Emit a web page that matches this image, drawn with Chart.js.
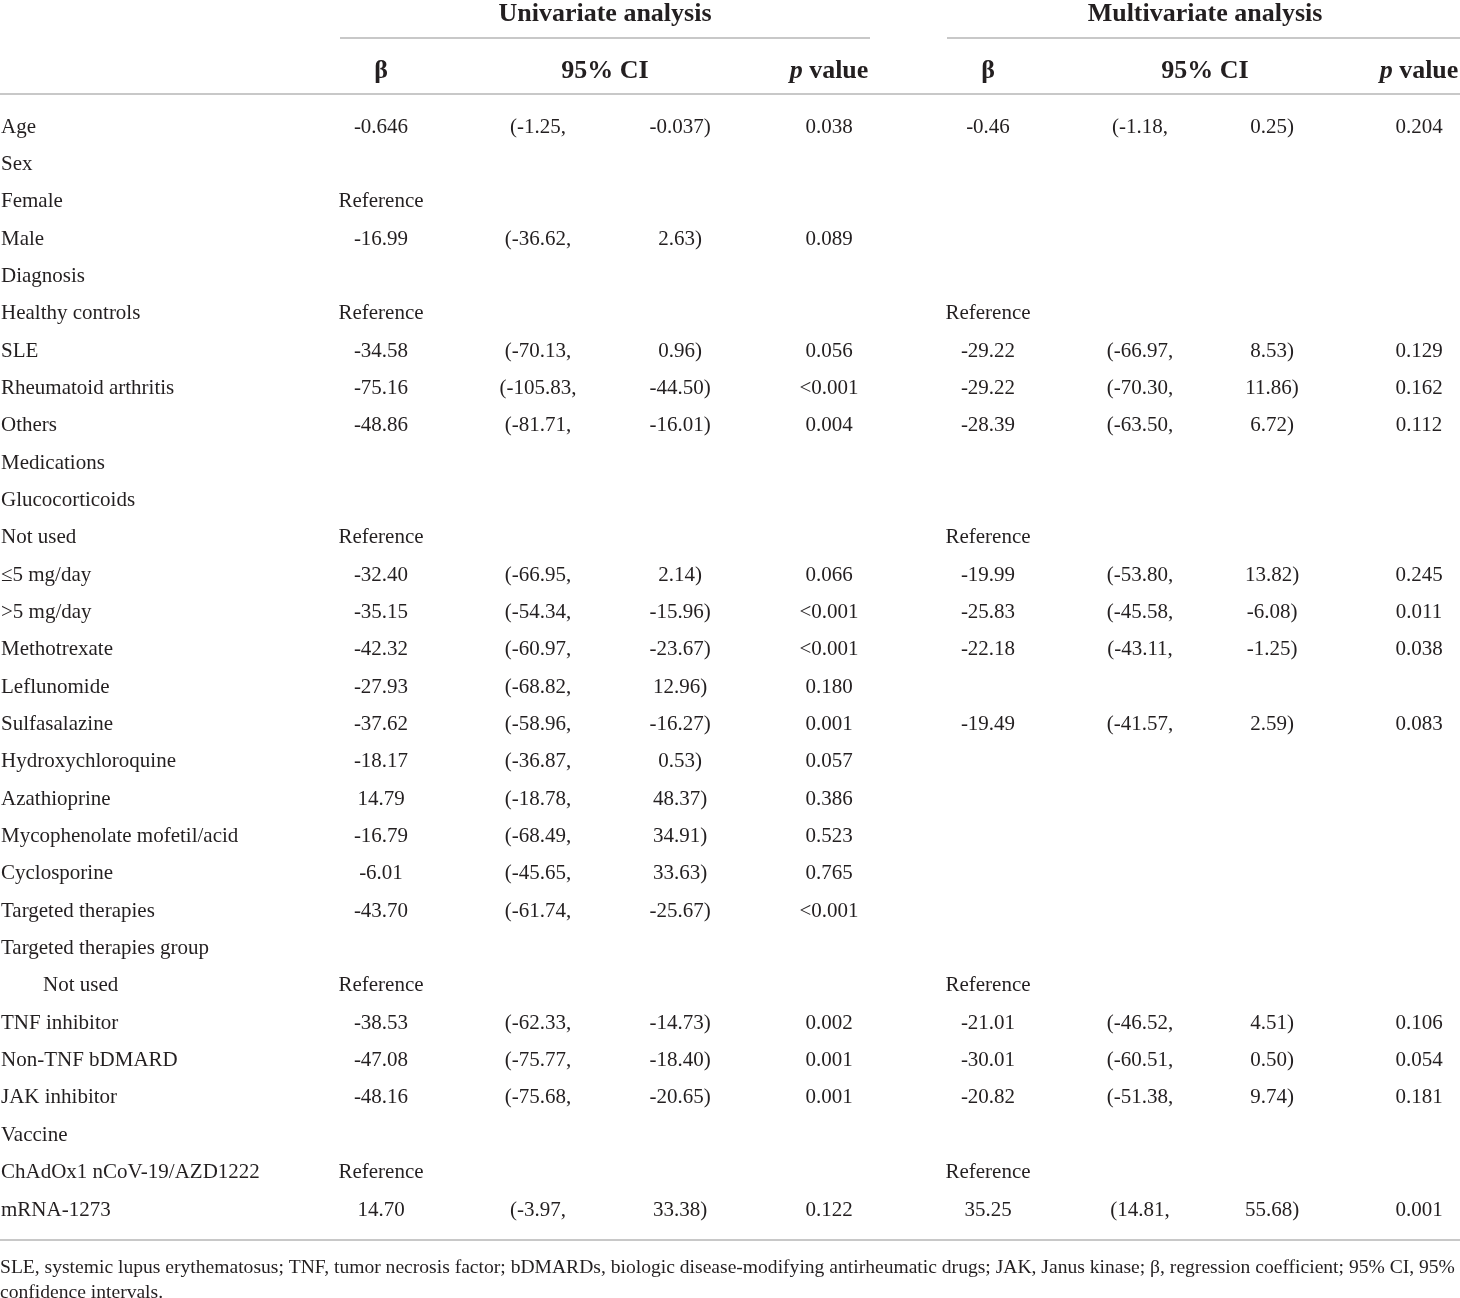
<!DOCTYPE html>
<html>
<head>
<meta charset="utf-8">
<script src="https://cdn.jsdelivr.net/npm/chart.js@4.4.1/dist/chart.umd.min.js"></script>
<style>
  html, body { margin: 0; background: #fff; }
  #wrap { width: 1460px; height: 1298px; }
</style>
</head>
<body>
<div id="wrap"><canvas id="chart"></canvas></div>
<script>
// table rows
const rowLabels = [
  "Age", "Sex", "Female", "Male", "Diagnosis", "Healthy controls", "SLE",
  "Rheumatoid arthritis", "Others", "Medications", "Glucocorticoids", "Not used",
  "≤5 mg/day", ">5 mg/day", "Methotrexate", "Leflunomide", "Sulfasalazine",
  "Hydroxychloroquine", "Azathioprine", "Mycophenolate mofetil/acid", "Cyclosporine",
  "Targeted therapies", "Targeted therapies group", "Not used", "TNF inhibitor",
  "Non-TNF bDMARD", "JAK inhibitor", "Vaccine", "ChAdOx1 nCoV-19/AZD1222", "mRNA-1273"
];
const indentedRows = [23];

// univariate analysis
const uniBeta = ["-0.646", "", "Reference", "-16.99", "", "Reference", "-34.58", "-75.16", "-48.86", "", "", "Reference",
  "-32.40", "-35.15", "-42.32", "-27.93", "-37.62", "-18.17", "14.79", "-16.79", "-6.01", "-43.70", "", "Reference",
  "-38.53", "-47.08", "-48.16", "", "Reference", "14.70"];
const uniLow = ["(-1.25,", "", "", "(-36.62,", "", "", "(-70.13,", "(-105.83,", "(-81.71,", "", "", "",
  "(-66.95,", "(-54.34,", "(-60.97,", "(-68.82,", "(-58.96,", "(-36.87,", "(-18.78,", "(-68.49,", "(-45.65,", "(-61.74,", "", "",
  "(-62.33,", "(-75.77,", "(-75.68,", "", "", "(-3.97,"];
const uniHigh = ["-0.037)", "", "", "2.63)", "", "", "0.96)", "-44.50)", "-16.01)", "", "", "",
  "2.14)", "-15.96)", "-23.67)", "12.96)", "-16.27)", "0.53)", "48.37)", "34.91)", "33.63)", "-25.67)", "", "",
  "-14.73)", "-18.40)", "-20.65)", "", "", "33.38)"];
const uniP = ["0.038", "", "", "0.089", "", "", "0.056", "<0.001", "0.004", "", "", "",
  "0.066", "<0.001", "<0.001", "0.180", "0.001", "0.057", "0.386", "0.523", "0.765", "<0.001", "", "",
  "0.002", "0.001", "0.001", "", "", "0.122"];

// multivariate analysis
const multiBeta = ["-0.46", "", "", "", "", "Reference", "-29.22", "-29.22", "-28.39", "", "", "Reference",
  "-19.99", "-25.83", "-22.18", "", "-19.49", "", "", "", "", "", "", "Reference",
  "-21.01", "-30.01", "-20.82", "", "Reference", "35.25"];
const multiLow = ["(-1.18,", "", "", "", "", "", "(-66.97,", "(-70.30,", "(-63.50,", "", "", "",
  "(-53.80,", "(-45.58,", "(-43.11,", "", "(-41.57,", "", "", "", "", "", "", "",
  "(-46.52,", "(-60.51,", "(-51.38,", "", "", "(14.81,"];
const multiHigh = ["0.25)", "", "", "", "", "", "8.53)", "11.86)", "6.72)", "", "", "",
  "13.82)", "-6.08)", "-1.25)", "", "2.59)", "", "", "", "", "", "", "",
  "4.51)", "0.50)", "9.74)", "", "", "55.68)"];
const multiP = ["0.204", "", "", "", "", "", "0.129", "0.162", "0.112", "", "", "",
  "0.245", "0.011", "0.038", "", "0.083", "", "", "", "", "", "", "",
  "0.106", "0.054", "0.181", "", "", "0.001"];

const groupTitles = ["Univariate analysis", "Multivariate analysis"];
const colTitles = ["β", "95% CI", "p value", "β", "95% CI", "p value"];
const footnoteLines = [
  "SLE, systemic lupus erythematosus; TNF, tumor necrosis factor; bDMARDs, biologic disease-modifying antirheumatic drugs; JAK, Janus kinase; β, regression coefficient; 95% CI, 95%",
  "confidence intervals."
];

// layout (x in px of the page, y in row units)
const TEXT = "#231f20";
const RULE = "#c8c8c8";
const SERIF = "'Liberation Serif', 'DejaVu Serif', serif";
const BODY_FONT = "21px " + SERIF;
const HEAD_SIZE = 26;
const textDrop = 2;
const labelX = 1, indentX = 43;
const columns = [
  { cells: uniBeta, x: 381 },
  { cells: uniLow, x: 538 },
  { cells: uniHigh, x: 680 },
  { cells: uniP, x: 829 },
  { cells: multiBeta, x: 988 },
  { cells: multiLow, x: 1140 },
  { cells: multiHigh, x: 1272 },
  { cells: multiP, x: 1419 }
];
const headerX = [381, 605, 829, 988, 1205, 1419];
const groupSpans = [[340, 870], [947, 1460]];
const groupTitleX = [605, 1205];
const rowGroupTitle = -3.03, rowColTitle = -1.5;
const rowRuleTop = -2.33, rowRuleHead = -0.83, rowRuleBottom = 29.87;
const rowFootnote = [30.55, 31.22];

const datasets = [{
  label: "labels",
  cells: rowLabels,
  align: "left",
  data: rowLabels.map((t, i) => ({ x: indentedRows.includes(i) ? indentX : labelX, y: i }))
}].concat(columns.map((c, k) => ({
  label: "col" + k,
  cells: c.cells,
  align: "center",
  data: c.cells.map((t, i) => ({ x: c.x, y: i }))
})));
datasets.forEach(d => { d.pointRadius = 0; d.showLine = false; });

const tablePlugin = {
  id: "tableText",
  afterDatasetsDraw(chart) {
    const ctx = chart.ctx;
    const xs = chart.scales.x, ys = chart.scales.y;
    ctx.save();
    ctx.fillStyle = TEXT;
    ctx.textBaseline = "middle";

    // body cells
    ctx.font = BODY_FONT;
    chart.data.datasets.forEach((ds, di) => {
      const meta = chart.getDatasetMeta(di);
      ctx.textAlign = ds.align;
      meta.data.forEach((el, i) => {
        const t = ds.cells[i];
        if (t) ctx.fillText(t, el.x, el.y + textDrop);
      });
    });

    // rules
    ctx.strokeStyle = RULE;
    ctx.lineWidth = 2;
    const hline = (x0, x1, r) => {
      const y = Math.round(ys.getPixelForValue(r));
      ctx.beginPath();
      ctx.moveTo(xs.getPixelForValue(x0), y);
      ctx.lineTo(xs.getPixelForValue(x1), y);
      ctx.stroke();
    };
    groupSpans.forEach(s => hline(s[0], s[1], rowRuleTop));
    hline(0, 1460, rowRuleHead);
    hline(0, 1460, rowRuleBottom);

    // header
    const bold = "bold " + HEAD_SIZE + "px " + SERIF;
    const boldItalic = "italic bold " + HEAD_SIZE + "px " + SERIF;
    ctx.textAlign = "center";
    ctx.font = bold;
    groupTitles.forEach((t, i) => {
      ctx.fillText(t, xs.getPixelForValue(groupTitleX[i]), ys.getPixelForValue(rowGroupTitle) + textDrop);
    });
    colTitles.forEach((t, i) => {
      const x = xs.getPixelForValue(headerX[i]);
      const y = ys.getPixelForValue(rowColTitle) + textDrop;
      if (t.startsWith("p ")) {
        const rest = t.slice(1);
        ctx.font = boldItalic;
        const w1 = ctx.measureText("p").width;
        ctx.font = bold;
        const w2 = ctx.measureText(rest).width;
        const x0 = x - (w1 + w2) / 2;
        ctx.textAlign = "left";
        ctx.font = boldItalic;
        ctx.fillText("p", x0, y);
        ctx.font = bold;
        ctx.fillText(rest, x0 + w1, y);
        ctx.textAlign = "center";
      } else {
        ctx.font = bold;
        ctx.fillText(t, x, y);
      }
    });

    // footnote, fitted to page width
    ctx.textAlign = "left";
    ctx.font = "18px " + SERIF;
    const w = ctx.measureText(footnoteLines[0]).width;
    const size = 18 * 1456 / w;
    ctx.font = size.toFixed(2) + "px " + SERIF;
    footnoteLines.forEach((t, i) => ctx.fillText(t, xs.getPixelForValue(0), ys.getPixelForValue(rowFootnote[i]) + textDrop));
    ctx.restore();
  }
};

new Chart(document.getElementById("chart"), {
  type: "scatter",
  data: { datasets },
  options: {
    responsive: true,
    maintainAspectRatio: false,
    animation: false,
    layout: { padding: 0 },
    plugins: { legend: { display: false }, tooltip: { enabled: false } },
    scales: {
      x: { type: "linear", display: false, min: 0, max: 1460 },
      y: { type: "linear", display: false, reverse: true, min: -3.347, max: 31.41 }
    }
  },
  plugins: [tablePlugin]
});
</script>
</body>
</html>
